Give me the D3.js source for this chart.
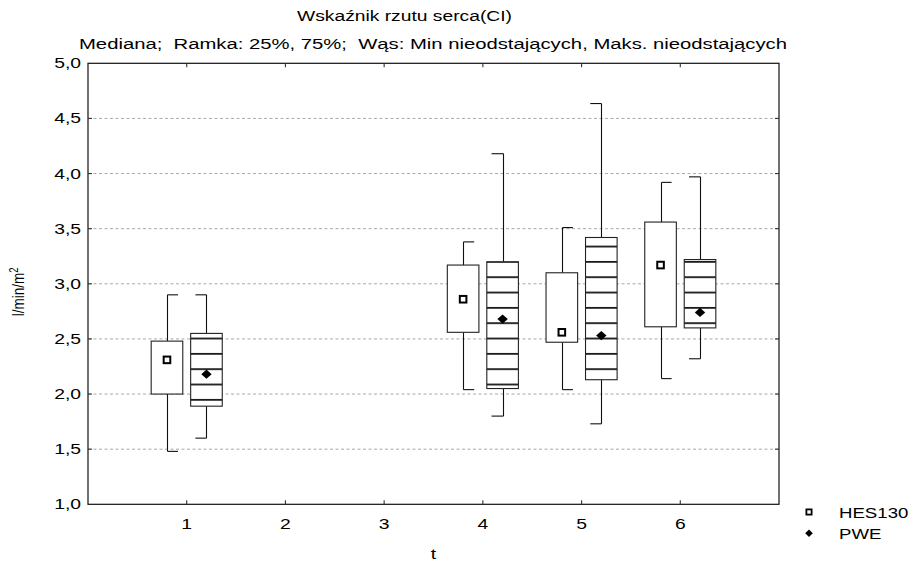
<!DOCTYPE html>
<html><head><meta charset="utf-8">
<script src="https://cdn.jsdelivr.net/npm/d3@7"></script>
<style>
html,body{margin:0;padding:0;background:#fff;}
svg{display:block;font-family:"Liberation Sans",Arial,sans-serif;}
text{white-space:pre;}
</style></head>
<body><svg id="c" width="913" height="563"></svg>
<script>
// ---- data ----
const titleText = "Wskaźnik rzutu serca(CI)";
const subtitleText = "Mediana;  Ramka: 25%, 75%;  Wąs: Min nieodstających, Maks. nieodstających";
const xTicks = [1, 2, 3, 4, 5, 6];
const yTicks = [1.0, 1.5, 2.0, 2.5, 3.0, 3.5, 4.0, 4.5, 5.0];
const seriesNames = ["HES130", "PWE"];
const boxCats = [1, 4, 5, 6];
const hesMin = [1.48, 2.04, 2.04, 2.14];
const hesQ1  = [2.00, 2.56, 2.47, 2.61];
const hesMed = [2.31, 2.86, 2.56, 3.17];
const hesQ3  = [2.48, 3.17, 3.10, 3.56];
const hesMax = [2.90, 3.38, 3.51, 3.92];
const pweMin = [1.60, 1.80, 1.73, 2.32];
const pweQ1  = [1.89, 2.05, 2.13, 2.60];
const pweMed = [2.18, 2.68, 2.53, 2.74];
const pweQ3  = [2.55, 3.20, 3.42, 3.22];
const pweMax = [2.90, 4.18, 4.635, 3.97];

// ---- layout ----
const L = 88, R = 779, T = 63.3, B = 504.3;
const svg = d3.select("#c");
const x = d3.scaleLinear().domain([0, 7]).range([L, R]);
const y = d3.scaleLinear().domain([1, 5]).range([B, T]);
const SX = 1.38; // horizontal text stretch
const fontSize = 14;

const defs = svg.append("defs");
const pat = defs.append("pattern").attr("id", "stripes")
  .attr("patternUnits", "userSpaceOnUse")
  .attr("x", 0).attr("y", 0.34).attr("width", 913).attr("height", 15.33);
pat.append("rect").attr("x", 0).attr("y", 0).attr("width", 913).attr("height", 1.8).attr("fill", "#1a1a1a");

// gridlines
svg.append("g").selectAll("line").data(yTicks.filter(v => v > 1 && v < 5)).join("line")
  .attr("x1", L).attr("x2", R).attr("y1", d => y(d)).attr("y2", d => y(d))
  .attr("stroke", "#a8a8a8").attr("stroke-width", 1).attr("stroke-dasharray", "3,2.5");

// build series
const series = [
  {name: "HES130", off: -0.2, capDir: 1, striped: false, min: hesMin, q1: hesQ1, med: hesMed, q3: hesQ3, max: hesMax},
  {name: "PWE", off: 0.2, capDir: -1, striped: true, min: pweMin, q1: pweQ1, med: pweMed, q3: pweQ3, max: pweMax}
];
const bw = 0.32, cap = 0.112;

series.forEach(s => {
  const g = svg.append("g");
  boxCats.forEach((c, i) => {
    const cx = x(c + s.off);
    const x0 = x(c + s.off - bw / 2), x1 = x(c + s.off + bw / 2);
    const cxr = Math.round(cx) + 0.5;
    // whiskers
    g.append("line").attr("x1", cxr).attr("x2", cxr).attr("y1", y(s.max[i])).attr("y2", y(s.q3[i]))
      .attr("stroke", "#111").attr("stroke-width", 1.1);
    g.append("line").attr("x1", cxr).attr("x2", cxr).attr("y1", y(s.q1[i])).attr("y2", y(s.min[i]))
      .attr("stroke", "#111").attr("stroke-width", 1.1);
    [s.max[i], s.min[i]].forEach(v => {
      g.append("line").attr("x1", cxr).attr("x2", x(c + s.off + s.capDir * cap))
        .attr("y1", y(v)).attr("y2", y(v)).attr("stroke", "#111").attr("stroke-width", 1.1);
    });
    // box
    g.append("rect").attr("x", x0).attr("y", y(s.q3[i])).attr("width", x1 - x0)
      .attr("height", y(s.q1[i]) - y(s.q3[i])).attr("fill", "#fff");
    if (s.striped) {
      g.append("rect").attr("x", x0).attr("y", y(s.q3[i])).attr("width", x1 - x0)
        .attr("height", y(s.q1[i]) - y(s.q3[i])).attr("fill", "url(#stripes)");
    }
    g.append("rect").attr("x", x0).attr("y", y(s.q3[i])).attr("width", x1 - x0)
      .attr("height", y(s.q1[i]) - y(s.q3[i])).attr("fill", "none")
      .attr("stroke", "#222").attr("stroke-width", 1.1);
    // median marker
    const my = y(s.med[i]);
    if (s.name === "HES130") {
      g.append("rect").attr("x", cx - 3.3).attr("y", my - 3.3).attr("width", 6.6).attr("height", 6.6)
        .attr("fill", "#fff").attr("stroke", "#000").attr("stroke-width", 2);
    } else {
      g.append("path").attr("d", `M${cx},${my-4.6}L${cx+5.2},${my}L${cx},${my+4.6}L${cx-5.2},${my}Z`)
        .attr("fill", "#000");
    }
  });
});

// frame
svg.append("rect").attr("x", L).attr("y", T).attr("width", R - L).attr("height", B - T)
  .attr("fill", "none").attr("stroke", "#111").attr("stroke-width", 1.2);

// ticks (inward)
const tk = svg.append("g").attr("stroke", "#333").attr("stroke-width", 1.1);
xTicks.forEach(v => {
  tk.append("line").attr("x1", x(v)).attr("x2", x(v)).attr("y1", B).attr("y2", B - 4);
  tk.append("line").attr("x1", x(v)).attr("x2", x(v)).attr("y1", T).attr("y2", T + 4);
});
yTicks.filter(v => v > 1 && v < 5).forEach(v => {
  tk.append("line").attr("x1", L).attr("x2", L + 4).attr("y1", y(v)).attr("y2", y(v));
  tk.append("line").attr("x1", R).attr("x2", R - 4).attr("y1", y(v)).attr("y2", y(v));
});

// stretched text helper
function stext(px, py, str, anchor, sx, size) {
  const g = svg.append("g").attr("transform", `translate(${px},${py}) scale(${sx},1)`);
  return g.append("text").attr("x", 0).attr("y", 0).attr("text-anchor", anchor)
    .attr("font-size", size).attr("fill", "#000").text(str);
}
const fmt = v => v.toFixed(1).replace(".", ",");
yTicks.forEach(v => stext(81, y(v) + 5, fmt(v), "end", SX, fontSize));
xTicks.forEach(v => stext(x(v), 529, String(v), "middle", SX, fontSize));
stext((L + R) / 2, 559, "t", "middle", SX, fontSize);

// y axis label
const yl = svg.append("g").attr("transform", `translate(24,${(T + B) / 2 + 8}) scale(1.25,1) rotate(-90)`)
  .append("text").attr("text-anchor", "middle").attr("font-size", 13.5).attr("fill", "#000");
yl.append("tspan").text("l/min/m");
yl.append("tspan").attr("dy", -5).attr("font-size", 9.5).text("2");

// titles
svg.append("text").attr("x", 297).attr("y", 21).attr("font-size", fontSize)
  .attr("textLength", 215).attr("lengthAdjust", "spacingAndGlyphs").text(titleText);
svg.append("text").attr("x", 79).attr("y", 49).attr("font-size", fontSize)
  .attr("textLength", 708).attr("lengthAdjust", "spacingAndGlyphs").text(subtitleText);

// legend
const lg = svg.append("g");
lg.append("rect").attr("x", 809 - 2.6).attr("y", 512 - 2.6).attr("width", 5.2).attr("height", 5.2)
  .attr("fill", "#fff").attr("stroke", "#000").attr("stroke-width", 1.8);
lg.append("path").attr("d", "M809,529.5L812.8,533.3L809,537.1L805.2,533.3Z").attr("fill", "#000");
stext(839, 517.5, seriesNames[0], "start", 1.33, fontSize);
stext(839, 538.5, seriesNames[1], "start", 1.33, fontSize);
</script></body></html>
